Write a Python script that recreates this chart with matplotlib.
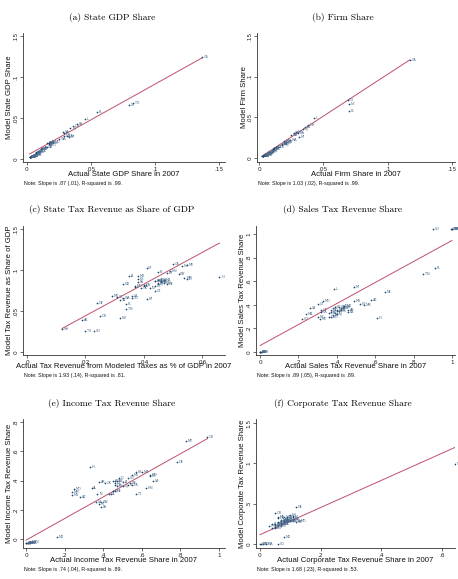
import numpy as np
import matplotlib.pyplot as plt

W, H = 458, 579

states = ['AL', 'AK', 'AZ', 'AR', 'CA', 'CO', 'CT', 'DE', 'DC', 'FL', 'GA', 'HI', 'ID',
          'IL', 'IN', 'IA', 'KS', 'KY', 'LA', 'ME', 'MD', 'MA', 'MI', 'MN', 'MS', 'MO',
          'MT', 'NE', 'NV', 'NH', 'NJ', 'NM', 'NY', 'NC', 'ND', 'OH', 'OK', 'OR', 'PA',
          'RI', 'SC', 'SD', 'TN', 'TX', 'UT', 'VT', 'VA', 'WA', 'WV', 'WI', 'WY']

# (a) state GDP share
gdp_actual = [.012, .003, .017, .007, .137, .018, .015, .004, .007, .055, .031, .004, .004,
              .045, .018, .009, .008, .011, .016, .003, .020, .029, .033, .019, .006, .016,
              .002, .006, .009, .004, .034, .005, .080, .029, .002, .036, .010, .011, .039,
              .003, .011, .002, .017, .083, .007, .002, .028, .025, .004, .017, .002]
gdp_model = [.013, .002, .018, .008, .124, .017, .014, .004, .005, .057, .028, .004, .004,
             .049, .021, .010, .009, .012, .015, .004, .021, .028, .027, .020, .006, .019,
             .003, .006, .008, .004, .038, .005, .066, .032, .002, .040, .010, .012, .043,
             .003, .012, .003, .019, .068, .007, .002, .033, .024, .004, .019, .002]

# (b) firm share
firm_actual = [.012, .003, .018, .009, .117, .021, .013, .003, .003, .070, .030, .004, .006,
               .043, .019, .011, .010, .011, .013, .005, .019, .025, .031, .020, .007, .019,
               .005, .007, .008, .005, .034, .005, .070, .029, .003, .038, .012, .015, .036,
               .004, .012, .003, .018, .069, .008, .003, .027, .024, .005, .018, .002]
firm_model = [.012, .003, .017, .008, .121, .020, .013, .003, .003, .058, .031, .004, .005,
              .049, .019, .010, .009, .011, .013, .004, .021, .028, .026, .020, .007, .019,
              .004, .006, .008, .005, .036, .005, .066, .032, .003, .041, .011, .013, .038,
              .004, .012, .003, .016, .071, .008, .003, .031, .022, .005, .017, .002]

# (c) tax revenue as share of GDP
rev_actual = [.040, .019, .046, .045, .050, .036, .044, .024, .044, .034, .040, .066, .055,
              .037, .042, .035, .038, .048, .036, .055, .045, .047, .041, .049, .038, .037,
              .029, .046, .032, .012, .045, .054, .053, .046, .033, .044, .039, .025, .038,
              .045, .031, .023, .034, .020, .044, .041, .032, .033, .047, .048, .052]
rev_model = [.081, .039, .086, .088, .107, .066, .087, .060, .080, .059, .082, .092, .089,
             .079, .078, .093, .089, .096, .068, .106, .084, .088, .065, .099, .093, .081,
             .068, .085, .042, .028, .083, .090, .105, .088, .083, .086, .078, .044, .085,
             .098, .067, .025, .052, .025, .075, .102, .063, .066, .084, .083, .095]

# (d) sales tax revenue share
sales_actual = [.42, .00, .58, .46, .32, .22, .39, .00, .36, .91, .40, .61, .38,
                .385, .43, .40, .44, .37, .46, .31, .33, .24, .49, .41, .49, .37,
                .00, .65, 1.0, .01, .40, .54, .52, .30, .44, .36, .41, .005, .38,
                .42, .39, .90, .85, 1.0, .30, .32, .26, 1.0, .43, .37, .995]
sales_model = [.37, .00, .44, .36, .34, .28, .33, .00, .30, .71, .36, .29, .37,
               .53, .39, .35, .38, .34, .34, .28, .43, .32, .55, .35, .43, .30,
               .00, .51, 1.04, .00, .32, .40, .41, .30, .39, .33, .38, .00, .31,
               .36, .38, 1.04, .66, 1.04, .41, .36, .37, 1.04, .37, .36, 1.04]

# (e) income tax revenue share
inc_actual = [.34, .00, .28, .38, .55, .53, .57, .78, .47, .005, .46, .33, .48,
              .44, .37, .50, .47, .45, .36, .55, .64, .60, .38, .62, .24, .25,
              .83, .46, .01, .02, .50, .24, .64, .57, .16, .46, .41, .94, .39,
              .45, .53, .015, .03, .01, .46, .43, .66, .02, .39, .54, .00]
inc_model = [.35, -.03, .29, .39, .37, .42, .31, .53, .40, -.03, .40, .49, .42,
             .31, .31, .39, .36, .33, .25, .44, .44, .46, .24, .35, .30, .34,
             .67, .33, -.03, -.02, .36, .32, .43, .46, .01, .37, .38, .70, .22,
             .40, .37, -.03, -.02, -.03, .38, .31, .40, -.03, .25, .38, -.025]

# (f) corporate tax revenue share
corp_actual = [.08, .05, .08, .06, .10, .05, .07, .12, .09, .09, .07, .03, .07,
               .11, .08, .04, .08, .07, .05, .06, .13, .11, .09, .09, .07, .05,
               .12, .06, .00, .643, .11, .07, .10, .08, .08, .04, .06, .05, .09,
               .07, .05, .06, .11, .01, .07, .09, .08, .02, .10, .08, .005]
corp_model = [.25, .23, .28, .27, .30, .20, .22, .46, .33, .31, .28, .22, .26,
              .35, .27, .25, .30, .29, .24, .33, .29, .31, .27, .28, .26, .25,
              .27, .23, .00, .99, .34, .30, .36, .33, .09, .20, .32, .38, .32,
              .25, .21, .00, .29, .00, .27, .30, .28, .00, .28, .27, .00]

titles = ['(a) State GDP Share', '(b) Firm Share', '(c) State Tax Revenue as Share of GDP',
          '(d) Sales Tax Revenue Share', '(e) Income Tax Revenue Share',
          '(f) Corporate Tax Revenue Share']
xlabels = ['Actual State GDP Share in 2007', 'Actual Firm Share in 2007',
           'Actual Tax Revenue from Modeled Taxes as % of GDP in 2007',
           'Actual Sales Tax Revenue Share in 2007', 'Actual Income Tax Revenue Share in 2007',
           'Actual Corporate Tax Revenue Share in 2007']
ylabels = ['Model State GDP Share', 'Model Firm Share', 'Model Tax Revenue as Share of GDP',
           'Model Sales Tax Revenue Share', 'Model Income Tax Revenue Share',
           'Model Corporate Tax Revenue Share']
notes = ['Note: Slope is .87 (.01), R-squared is .99.',
         'Note: Slope is 1.03 (.02), R-squared is .99.',
         'Note: Slope is 1.93 (.14), R-squared is .81.',
         'Note: Slope is .89 (.05), R-squared is .89.',
         'Note: Slope is .74 (.04), R-squared is .89.',
         'Note: Slope is 1.68 (.23), R-squared is .53.']
fit_slope = [.87, 1.03, 1.93, .89, .74, 1.68]
fit_icpt = [.0043, 0.0, .0055, .055, -.008, .115]

xticks = [[0, .05, .1, .15], [0, .05, .1, .15], [0, .02, .04, .06],
          [0, .2, .4, .6, .8, 1], [0, .2, .4, .6, .8, 1], [0, .2, .4, .6]]
xticklabels = [['0', '.05', '.1', '.15'], ['0', '.05', '.1', '.15'], ['0', '.02', '.04', '.06'],
               ['0', '.2', '.4', '.6', '.8', '1'], ['0', '.2', '.4', '.6', '.8', '1'],
               ['0', '.2', '.4', '.6']]
yticks = [[0, .05, .1, .15], [0, .05, .1, .15], [0, .05, .1, .15],
          [0, .2, .4, .6, .8, 1], [0, .2, .4, .6, .8], [0, .5, 1, 1.5]]
yticklabels = [['0', '.05', '.1', '.15'], ['0', '.05', '.1', '.15'], ['0', '.05', '.1', '.15'],
               ['0', '.2', '.4', '.6', '.8', '1'], ['0', '.2', '.4', '.6', '.8'],
               ['0', '.5', '1', '1.5']]

series = [(gdp_actual, gdp_model), (firm_actual, firm_model), (rev_actual, rev_model),
          (sales_actual, sales_model), (inc_actual, inc_model), (corp_actual, corp_model)]

# layout in pixels: axes box (left, top, right, bottom), axis limits
boxes = [(23, 33, 225, 162), (257, 33, 455, 162),
         (23, 226, 225, 355), (256, 226, 455, 355),
         (23, 419, 225, 548), (256, 419, 455, 548)]
xlims = [(-0.0031, 0.1547), (-0.0016, 0.1523), (-0.0014, 0.0679),
         (-0.021, 1.016), (-0.016, 1.031), (-0.013, 0.644)]
ylims = [(-0.0037, 0.1537), (-0.0049, 0.1537), (-0.0037, 0.1537),
         (-0.025, 1.068), (-0.062, 0.822), (-0.05, 1.549)]

NAVY = '#1a476f'
LABEL = '#4d6b8c'
FIT = '#c0506c'
AXC = '#333333'

fig = plt.figure(figsize=(W / 100, H / 100), dpi=100)


def fx(px):
    return px / W


def fy(py):
    return 1 - py / H


for i in range(6):
    l, t, r, b = boxes[i]
    ax = fig.add_axes([fx(l), fy(b), (r - l) / W, (b - t) / H])
    x = np.array(series[i][0])
    y = np.array(series[i][1])

    xs = np.array([x.min(), x.max()])
    ax.plot(xs, fit_icpt[i] + fit_slope[i] * xs, color=FIT, lw=0.7, zorder=2)
    ax.scatter(x, y, s=1.5, color=NAVY, linewidths=0, zorder=3)
    for xv, yv, st in zip(x, y, states):
        ax.annotate(st, (xv, yv), xytext=(1.2, 0), textcoords='offset points',
                    fontsize=2.4, color=LABEL, va='center', ha='left', zorder=3)

    ax.set_xlim(*xlims[i])
    ax.set_ylim(*ylims[i])
    ax.set_xticks(xticks[i])
    ax.set_xticklabels(xticklabels[i])
    ax.set_yticks(yticks[i])
    ax.set_yticklabels(yticklabels[i], rotation=90, va='center')
    for s in ['top', 'right']:
        ax.spines[s].set_visible(False)
    for s in ['left', 'bottom']:
        ax.spines[s].set_linewidth(0.6)
        ax.spines[s].set_color(AXC)
    ax.tick_params(length=2.2, width=0.5, color=AXC, labelsize=4.2, pad=1.2,
                   labelcolor='#222222')
    ax.patch.set_alpha(0)

    cx = (l + r) / 2
    fig.text(fx(cx - 12 if i % 2 == 0 else cx - 13), fy(t - 16), titles[i], ha='center',
             va='center', fontsize=6.8, family='cmr10')
    fig.text(fx(cx), fy(b + 12), xlabels[i], ha='center', va='center', fontsize=5.6,
             family='Liberation Sans', color='#111111')
    fig.text(fx(l + 1), fy(b + 21), notes[i], ha='left', va='center', fontsize=3.8,
             family='Liberation Sans', color='#111111')
    fig.text(fx(l - 13), fy((t + b) / 2), ylabels[i], ha='center', va='center',
             rotation=90, fontsize=5.6, family='Liberation Sans', color='#111111')

fig.savefig('out.png', dpi=100)
